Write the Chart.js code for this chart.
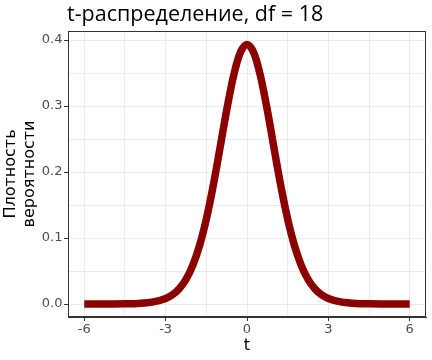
<!DOCTYPE html>
<html>
<head>
<meta charset="utf-8">
<script src="https://cdn.jsdelivr.net/npm/chart.js@4/dist/chart.umd.min.js"></script>
<style>
  body { margin: 0; background: #fff; }
  canvas { display: block; }
</style>
</head>
<body>
<canvas id="tChart" width="432" height="360"></canvas>
<script>
// t-distribution density, df = 18
const tValues = [-6, -5.5, -5, -4.5, -4, -3.5, -3, -2.75, -2.5, -2.25, -2, -1.75, -1.5, -1.25, -1, -0.75, -0.5, -0.25,
                 0, 0.25, 0.5, 0.75, 1, 1.25, 1.5, 1.75, 2, 2.25, 2.5, 2.75, 3, 3.5, 4, 4.5, 5, 5.5, 6];
const densityValues = [0.00001, 0.00004, 0.0001, 0.0003, 0.0009, 0.0028, 0.0084, 0.0140, 0.0232, 0.0374, 0.0585, 0.0884, 0.1285, 0.1784, 0.2354, 0.2937, 0.3451, 0.3807,
                       0.3934, 0.3807, 0.3451, 0.2937, 0.2354, 0.1784, 0.1285, 0.0884, 0.0585, 0.0374, 0.0232, 0.0140, 0.0084, 0.0028, 0.0009, 0.0003, 0.0001, 0.00004, 0.00001];
const xTickLabels = [-6, -3, 0, 3, 6];
const yTickLabels = ['0.0', '0.1', '0.2', '0.3', '0.4'];

const titleText = 't-распределение, df = 18';
const xTitle = 't';
const yTitle = ['Плотность', 'вероятности'];

const GRID = '#EBEBEB';
const DARK = '#333333';
const TICK_TEXT = '#4D4D4D';

const points = tValues.map((t, i) => ({ x: t, y: densityValues[i] }));

function isMajorX(v) {
    return xTickLabels.some(t => Math.abs(t - v) < 1e-6);
}

function yLabelFor(v) {
    const idx = Math.round(v * 10);
    if (Math.abs(v * 10 - idx) < 1e-6 && idx >= 0 && idx < yTickLabels.length) return yTickLabels[idx];
    return '';
}

// panel border + plot title, ggplot style
const panelPlugin = {
    id: 'panel',
    afterDraw(chart) {
        const { ctx, chartArea } = chart;
        ctx.save();
        ctx.strokeStyle = DARK;
        ctx.lineWidth = 1;
        ctx.strokeRect(Math.round(chartArea.left) + 0.5, Math.round(chartArea.top) + 0.5,
                       Math.round(chartArea.right - chartArea.left) - 1, Math.round(chartArea.bottom - chartArea.top) - 1);
        ctx.fillStyle = '#000';
        ctx.font = '21.5px "Open Sans"';
        ctx.textBaseline = 'alphabetic';
        ctx.textAlign = 'left';
        ctx.fillText(titleText, 67, 21);
        ctx.restore();
    }
};

new Chart(document.getElementById('tChart'), {
    type: 'line',
    data: {
        datasets: [{
            data: points,
            borderColor: '#8B0000',
            borderWidth: 7.5,
            borderCapStyle: 'butt',
            pointRadius: 0,
            fill: false,
            cubicInterpolationMode: 'monotone'
        }]
    },
    options: {
        responsive: false,
        animation: false,
        layout: { padding: { top: 31, right: 6, left: 0, bottom: 0 } },
        plugins: {
            legend: { display: false },
            tooltip: { enabled: false }
        },
        scales: {
            x: {
                type: 'linear',
                min: -6.6,
                max: 6.6,
                afterFit: (scale) => { scale.height = 43; },
                ticks: {
                    stepSize: 1.5,
                    includeBounds: false,
                    autoSkip: false,
                    maxRotation: 0,
                    padding: 1,
                    color: TICK_TEXT,
                    font: { family: 'DejaVu Sans', size: 13 },
                    callback: (v) => isMajorX(v) ? String(Math.round(v)) : ''
                },
                grid: {
                    color: GRID,
                    tickLength: 4,
                    tickColor: (c) => isMajorX(c.tick.value) ? DARK : 'rgba(0,0,0,0)'
                },
                border: { color: DARK, width: 1 },
                title: {
                    display: true,
                    text: xTitle,
                    color: '#000',
                    font: { family: 'DejaVu Sans', size: 16, lineHeight: 1.15 },
                    padding: { top: 0, bottom: 5 }
                }
            },
            y: {
                type: 'linear',
                min: -0.0197,
                max: 0.4137,
                afterFit: (scale) => { scale.width = 68; },
                ticks: {
                    stepSize: 0.05,
                    includeBounds: false,
                    autoSkip: false,
                    padding: 1.5,
                    color: TICK_TEXT,
                    font: { family: 'DejaVu Sans', size: 13 },
                    callback: (v) => yLabelFor(v)
                },
                grid: {
                    color: GRID,
                    tickLength: 4,
                    tickColor: (c) => yLabelFor(c.tick.value) !== '' ? DARK : 'rgba(0,0,0,0)'
                },
                border: { color: DARK, width: 1 },
                title: {
                    display: true,
                    text: yTitle,
                    color: '#000',
                    font: { family: 'DejaVu Sans', size: 16, lineHeight: 1.15 },
                    padding: { top: 2, bottom: 0 }
                }
            }
        }
    },
    plugins: [panelPlugin]
});
</script>
</body>
</html>
